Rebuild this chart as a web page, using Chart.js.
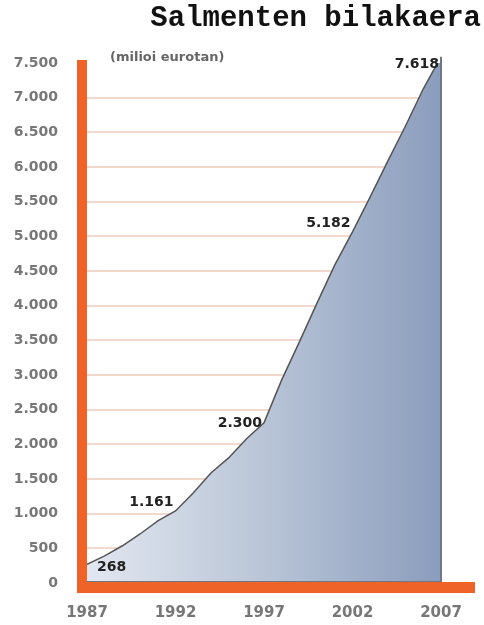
<!DOCTYPE html>
<html lang="eu">
<head>
  <meta charset="UTF-8">
  <title>Salmenten bilakaera</title>
  <script src="https://cdn.jsdelivr.net/npm/chart.js"></script>
  <style>
    body { margin: 0; background: #fff; }
  </style>
</head>
<body>
  <canvas id="salesChart" width="484" height="625"></canvas>

  <script>
    // Sales, millions of euros
    const years = [1987, 1988, 1989, 1990, 1991, 1992, 1993, 1994, 1995, 1996, 1997,
                   1998, 1999, 2000, 2001, 2002, 2003, 2004, 2005, 2006, 2007];
    const sales = [268, 390, 537, 707, 895, 1039, 1299, 1587, 1804, 2078, 2309,
                   2929, 3477, 4040, 4589, 5065, 5570, 6089, 6595, 7128, 7590];

    // values written next to the line
    const labelYears = [1987, 1992, 1997, 2002, 2007];
    const labelValues = [268, 1161, 2300, 5182, 7618];
    const labelTexts = ['268', '1.161', '2.300', '5.182', '7.618'];

    const xTicks = [1987, 1992, 1997, 2002, 2007];

    const titleText = 'Salmenten bilakaera';
    const unitText = '(milioi eurotan)';

    function dots(v) {
      return String(v).replace(/\B(?=(\d{3})+(?!\d))/g, '.');
    }

    const decorPlugin = {
      id: 'decor',
      afterDatasetsDraw(chart) {
        const c = chart.ctx;
        const x = chart.scales.x, y = chart.scales.y;
        const lastX = x.getPixelForValue(years[years.length - 1]);
        const lastY = y.getPixelForValue(sales[sales.length - 1]);
        c.save();
        // right edge and base of the area
        c.strokeStyle = '#6f7787';
        c.lineWidth = 2;
        c.beginPath();
        c.moveTo(lastX, lastY);
        c.lineTo(lastX, y.bottom - 1);
        c.lineTo(x.left, y.bottom - 1);
        c.stroke();

        // value labels
        c.fillStyle = '#222';
        c.font = 'bold 14px "DejaVu Sans"';
        c.textBaseline = 'middle';
        labelTexts.forEach((t, i) => {
          const px = x.getPixelForValue(labelYears[i]);
          const py = y.getPixelForValue(labelValues[i]);
          if (i === 0) {
            c.textAlign = 'left';
            c.fillText(t, px + 10, py + 3);
          } else {
            c.textAlign = 'right';
            c.fillText(t, px - 2, py + (i === labelTexts.length - 1 ? 10 : 0));
          }
        });
        c.restore();
      },
      afterDraw(chart) {
        const c = chart.ctx;
        const area = chart.chartArea;
        c.save();
        // orange axes
        c.fillStyle = '#ef6228';
        c.fillRect(77, 60, 10, area.bottom + 10 - 60);
        c.fillRect(77, area.bottom - 1, 398, 11);

        // titles
        c.fillStyle = '#111';
        c.font = 'bold 29px "Liberation Mono"';
        c.textAlign = 'right';
        c.textBaseline = 'middle';
        c.fillText(titleText, 481, 19);

        c.fillStyle = '#666';
        c.font = 'bold 13px "DejaVu Sans"';
        c.textAlign = 'left';
        c.fillText(unitText, 110, 58);
        c.restore();
      }
    };

    const ctx = document.getElementById('salesChart').getContext('2d');
    const salesChart = new Chart(ctx, {
      type: 'line',
      data: {
        datasets: [{
          data: years.map((yr, i) => ({ x: yr, y: sales[i] })),
          borderColor: '#555',
          borderWidth: 1.5,
          pointRadius: 0,
          tension: 0,
          fill: 'origin',
          backgroundColor: (context) => {
            const area = context.chart.chartArea;
            if (!area) return '#b8c4d6';
            const g = context.chart.ctx.createLinearGradient(area.left, 0, area.right, 0);
            g.addColorStop(0, '#e2e7f0');
            g.addColorStop(0.5, '#b9c5d7');
            g.addColorStop(1, '#8b9dbd');
            return g;
          }
        }]
      },
      options: {
        responsive: false,
        animation: false,
        layout: { padding: { top: 63, right: 43, left: 0, bottom: 0 } },
        plugins: {
          legend: { display: false },
          tooltip: { enabled: false }
        },
        scales: {
          x: {
            type: 'linear',
            min: 1987,
            max: 2007,
            afterBuildTicks: (scale) => { scale.ticks = xTicks.map(v => ({ value: v })); },
            afterFit: (scale) => { scale.height = 42; },
            grid: { display: false, drawTicks: false },
            border: { display: false },
            ticks: {
              padding: 21,
              color: '#777',
              font: { family: 'DejaVu Sans', size: 15, weight: 'bold' },
              callback: (v) => String(v)
            }
          },
          y: {
            min: 0,
            max: 7500,
            afterFit: (scale) => { scale.width = 87; },
            grid: {
              drawTicks: false,
              lineWidth: 2,
              color: (c) => (c.tick && (c.tick.value === 0 || c.tick.value === 7500)) ? 'rgba(0,0,0,0)' : '#f2d9ce'
            },
            border: { display: false },
            ticks: {
              stepSize: 500,
              padding: 29,
              color: '#777',
              font: { family: 'DejaVu Sans', size: 14, weight: 'bold' },
              callback: (v) => dots(v)
            }
          }
        }
      },
      plugins: [decorPlugin]
    });
  </script>
</body>
</html>
